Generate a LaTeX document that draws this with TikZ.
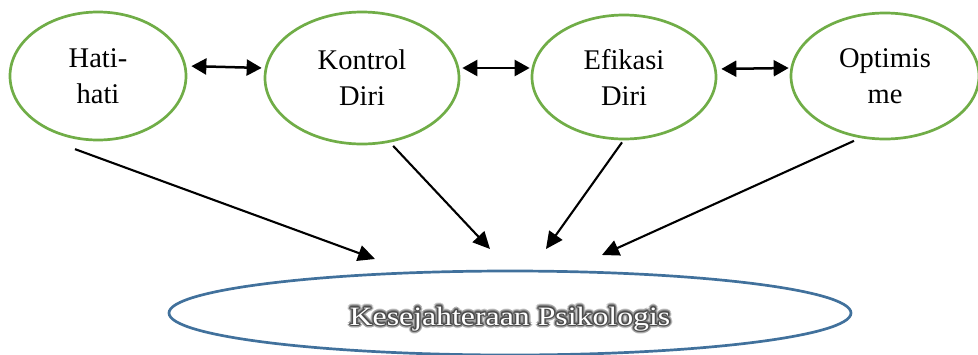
\documentclass[tikz,border=0pt]{standalone}
\usepackage{fontspec}
\setmainfont{Liberation Serif}
\usetikzlibrary{shapes.geometric,arrows.meta}
\definecolor{factorgreen}{HTML}{70AD47}
\definecolor{outcomeblue}{HTML}{41719C}
\definecolor{halodark}{RGB}{75,75,75}
\newcommand\psiword{\scalebox{1.2}[1]{\fontsize{26.5}{30}\selectfont Kesejahteraan Psikologis}}
\tikzset{
  factor/.style={ellipse, draw=factorgreen, line width=2.7pt, inner sep=0pt,
    align=center, font=\fontsize{28.5}{36}\selectfont},
  outcome/.style={ellipse, draw=outcomeblue, line width=2.7pt, inner sep=0pt,
    minimum width=682pt, minimum height=84pt},
  link/.style={line width=2.5pt, {Triangle[length=15pt,width=16pt]}-{Triangle[length=15pt,width=16pt]}},
  effect/.style={line width=2.1pt, -{Triangle[length=17pt,width=16pt]}},
  psilabel/.style={anchor=base, inner sep=0pt}
}
\begin{document}
\begin{tikzpicture}[x=1pt,y=-1pt]
\useasboundingbox (0,0) rectangle (978,354);

% the four factors
\node[factor, minimum width=176pt, minimum height=128pt] (hati) at (98,76) {Hati-\\hati};
\node[factor, minimum width=194pt, minimum height=132pt] (kontrol) at (362,78) {Kontrol\\Diri};
\node[factor, minimum width=184pt, minimum height=124pt] (efikasi) at (624,77) {Efikasi\\Diri};
\node[factor, minimum width=188pt, minimum height=126pt] (optimisme) at (885,76) {Optimis\\me};

% the outcome, its label set white over a soft dark halo
\node[outcome] (psiko) at (510,313) {};
\coordinate (psibase) at (510,325);
\foreach \r/\c [count=\i] in {3.4/halodark!25, 2.6/halodark!50, 1.8/halodark!80, 1.0/halodark}
  \foreach \a in {0,30,...,330}
    \node[psilabel, text=\c, name=halo\i-\a] at ([shift={(\a:\r pt)}]psibase) {\psiword};
\node[psilabel, text=white] (psitext) at (psibase) {\psiword};

% links between neighbouring factors
\draw[link, shorten <=4pt, shorten >=2pt] ([yshift=10pt]hati.east) -- ([yshift=10pt]kontrol.west);
\draw[link, shorten <=2pt, shorten >=1pt] ([yshift=10pt]kontrol.east) -- ([yshift=9pt]efikasi.west);
\draw[link, shorten <=4pt, shorten >=1pt] ([yshift=8pt]efikasi.east) -- ([yshift=8pt]optimisme.west);

% effects on the outcome
\coordinate (t1) at (375,259);
\coordinate (t2) at (490,249);
\coordinate (t3) at (546,249);
\coordinate (t4) at (602,255);
\draw[effect] ([yshift=-10pt]hati.250) -- (t1);
\draw[effect] ([yshift=-4pt]kontrol.296) -- (t2);
\draw[effect] ([xshift=-2pt,yshift=-2pt]efikasi.south) -- (t3);
\draw[effect] ([yshift=-4pt]optimisme.243) -- (t4);
\end{tikzpicture}
\end{document}
